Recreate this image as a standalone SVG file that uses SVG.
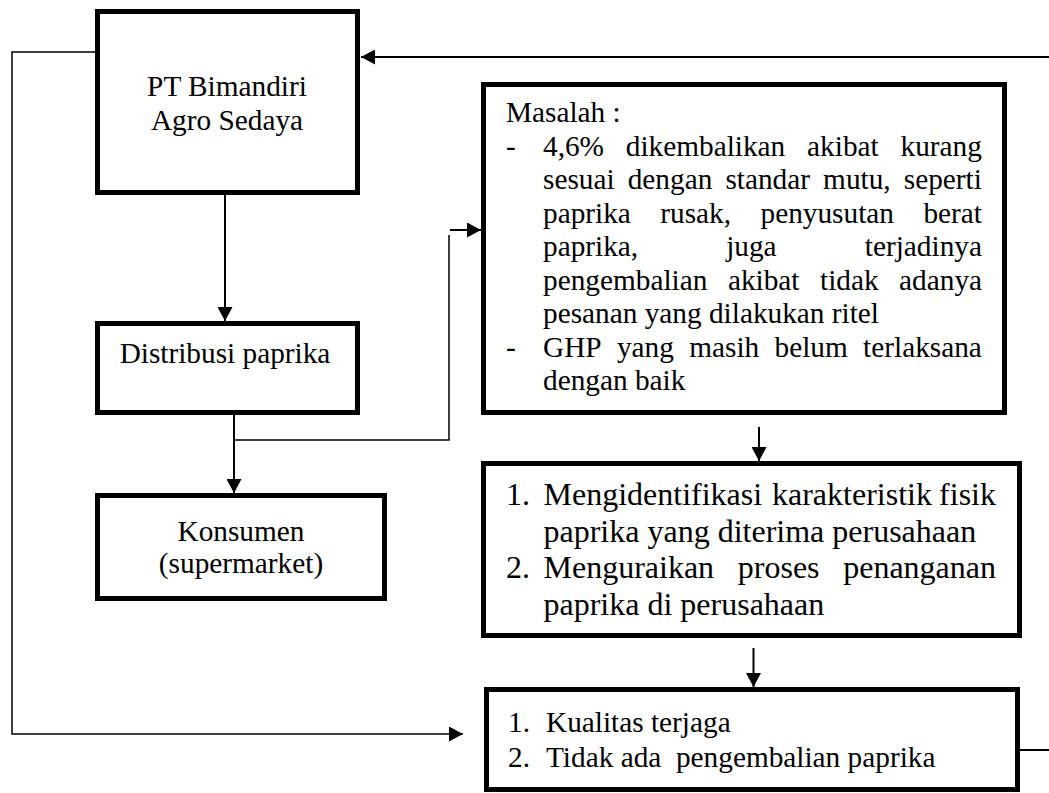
<svg xmlns="http://www.w3.org/2000/svg" width="1049" height="793" viewBox="0 0 1049 793">
<defs>
<style>
.box{fill:#fff;stroke:#000;stroke-width:5}
.t{font-family:"Liberation Serif","Times New Roman",serif;font-size:29.3px;fill:#000}
.t3{font-family:"Liberation Serif","Times New Roman",serif;font-size:32px;fill:#000}
.c{text-anchor:middle}
.ln{fill:none;stroke:#000;stroke-width:2}
.thin{fill:none;stroke:#000;stroke-width:1.5}
</style>
<marker id="ah" viewBox="0 0 14 15" refX="14" refY="7.5" markerWidth="14" markerHeight="15" markerUnits="userSpaceOnUse" orient="auto">
<path d="M0,0 L14,7.5 L0,15 Z" fill="#000"/>
</marker>
</defs>
<rect width="1049" height="793" fill="#fff"/>
<g id="connectors">
<path class="ln" d="M1049,57 H361" stroke-width="2.5" marker-end="url(#ah)"/>
<path class="thin" d="M95,52 H12 V734 H463" marker-end="url(#ah)"/>
<path class="ln" d="M225,195 V321" marker-end="url(#ah)"/>
<path class="ln" d="M234,415 V493" marker-end="url(#ah)"/>
<path class="thin" d="M235,440 H449 V235"/>
<path class="ln" d="M450,230 H481" marker-end="url(#ah)"/>
<path class="ln" d="M759,427 V461" marker-end="url(#ah)"/>
<path class="ln" d="M753.5,648 V687" marker-end="url(#ah)"/>
<path class="ln" d="M1020,750 H1049"/>
</g>
<g id="pt">
<rect class="box" x="97.5" y="11.5" width="260" height="181"/>
<text class="t c" x="227" y="96">PT Bimandiri</text>
<text class="t c" x="227" y="130">Agro Sedaya</text>
</g>
<g id="distribusi">
<rect class="box" x="97.5" y="323.5" width="260" height="89"/>
<text class="t c" x="225" y="363">Distribusi paprika</text>
</g>
<g id="konsumen">
<rect class="box" x="97.5" y="495.5" width="287" height="103"/>
<text class="t c" x="241" y="541">Konsumen</text>
<text class="t c" x="241" y="573">(supermarket)</text>
</g>
<g id="masalah">
<rect class="box" x="483.5" y="84.5" width="521" height="328"/>
<text class="t" x="506" y="122">Masalah :</text>
<text class="t" x="506" y="155.5">-</text>
<text class="t" y="155.5"><tspan x="543">4,6%</tspan><tspan x="625.8">dikembalikan</tspan><tspan x="807.1">akibat</tspan><tspan x="900.5">kurang</tspan></text>
<text class="t" y="189"><tspan x="543">sesuai</tspan><tspan x="627.7">dengan</tspan><tspan x="725.4">standar</tspan><tspan x="823.1">mutu,</tspan><tspan x="903.8">seperti</tspan></text>
<text class="t" y="222.5"><tspan x="543">paprika</tspan><tspan x="660.3">rusak,</tspan><tspan x="760.5">penyusutan</tspan><tspan x="923.4">berat</tspan></text>
<text class="t" y="256"><tspan x="543">paprika,</tspan><tspan x="726.2">juga</tspan><tspan x="864.8">terjadinya</tspan></text>
<text class="t" y="289.5"><tspan x="543">pengembalian</tspan><tspan x="727.9">akibat</tspan><tspan x="820">tidak</tspan><tspan x="899.1">adanya</tspan></text>
<text class="t" x="543" y="323">pesanan yang dilakukan ritel</text>
<text class="t" x="506" y="356.5">-</text>
<text class="t" y="356.5"><tspan x="543">GHP</tspan><tspan x="616.9">yang</tspan><tspan x="689.2">masih</tspan><tspan x="774.5">belum</tspan><tspan x="863.1">terlaksana</tspan></text>
<text class="t" x="543" y="390">dengan baik</text>
</g>
<g id="tujuan">
<rect class="box" x="483.5" y="463.5" width="536" height="172"/>
<text class="t3" x="506" y="505">1.</text>
<text class="t3" y="505"><tspan x="543.5">Mengidentifikasi</tspan><tspan x="772">karakteristik</tspan><tspan x="996" text-anchor="end">fisik</tspan></text>
<text class="t3" x="543.5" y="541.5">paprika yang diterima perusahaan</text>
<text class="t3" x="506" y="578">2.</text>
<text class="t3" y="578"><tspan x="543.5">Menguraikan</tspan><tspan x="737.8">proses</tspan><tspan x="996" text-anchor="end">penanganan</tspan></text>
<text class="t3" x="543.5" y="614.5">paprika di perusahaan</text>
</g>
<g id="hasil">
<rect class="box" x="486.5" y="689.5" width="531" height="100"/>
<text class="t" x="508" y="732">1.</text>
<text class="t" x="546" y="732">Kualitas terjaga</text>
<text class="t" x="508" y="767">2.</text>
<text class="t" x="546" y="767" xml:space="preserve">Tidak ada  pengembalian paprika</text>
</g>
</svg>
